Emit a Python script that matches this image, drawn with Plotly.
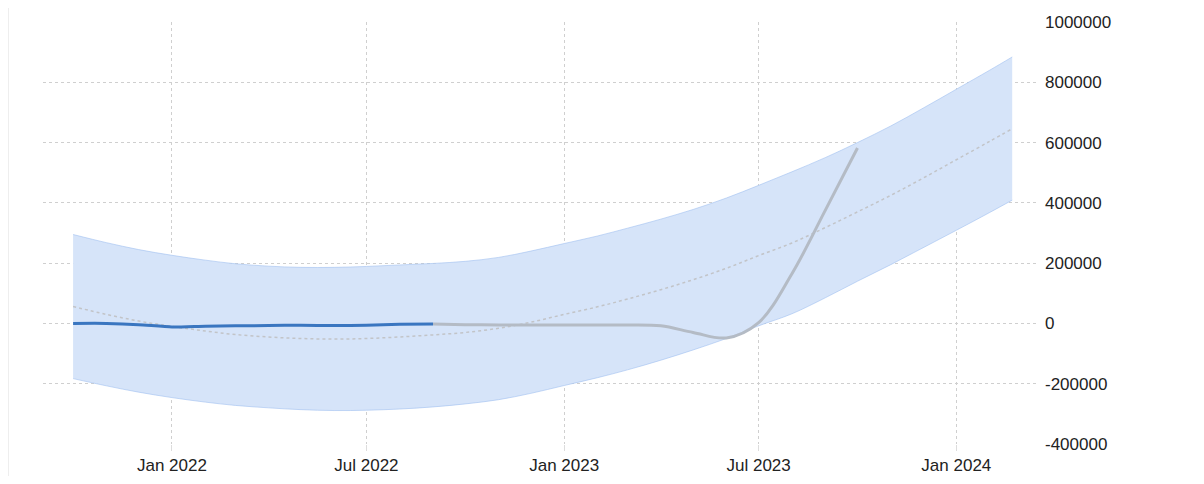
import plotly.graph_objects as go

# ---- data ----
band_dates = [
    "2021-10-01", "2021-11-01", "2021-12-01", "2022-01-01", "2022-02-01", "2022-03-01",
    "2022-04-01", "2022-05-01", "2022-06-01", "2022-07-01", "2022-08-01", "2022-09-01",
    "2022-10-01", "2022-11-01", "2022-12-01", "2023-01-01", "2023-02-01", "2023-03-01",
    "2023-04-01", "2023-05-01", "2023-06-01", "2023-07-01", "2023-08-01", "2023-09-01",
    "2023-10-01", "2023-11-01", "2023-12-01", "2024-01-01", "2024-02-01", "2024-02-22",
]
band_upper = [
    295000, 268000, 245000, 226000, 210000, 198000, 190000, 186000, 186000, 189000,
    194000, 199000, 206000, 219000, 240000, 265000, 290000, 316000, 346000, 378000,
    416000, 458000, 503000, 550000, 600000, 655000, 714000, 777000, 840000, 884000,
]
band_lower = [
    -183000, -207000, -228000, -246000, -261000, -272000, -280000, -286000, -289000, -288000,
    -284000, -277000, -267000, -253000, -232000, -206000, -180000, -154000, -122000, -88000,
    -50000, -8000, 32000, 85000, 140000, 195000, 251000, 309000, 368000, 409000,
]
trend = [
    56000, 30000, 8000, -10000, -25000, -37000, -45000, -50000, -52000, -50000,
    -45000, -38000, -30000, -16000, 4000, 30000, 55000, 81000, 112000, 145000,
    183000, 225000, 267000, 318000, 370000, 425000, 482000, 543000, 604000, 646000,
]

actual_dates = [
    "2021-10-01", "2021-11-01", "2021-12-01", "2022-01-01", "2022-02-01", "2022-03-01",
    "2022-04-01", "2022-05-01", "2022-06-01", "2022-07-01", "2022-08-01", "2022-09-01",
]
actual_values = [0, 0, -4000, -12000, -9000, -8000, -7000, -6000, -7000, -6000, -3000, -2000]

forecast_dates = [
    "2022-09-01", "2022-10-01", "2022-11-01", "2022-12-01", "2023-01-01", "2023-02-01",
    "2023-03-01", "2023-04-01", "2023-05-01", "2023-06-01", "2023-07-01", "2023-08-01",
    "2023-09-01", "2023-10-01",
]
forecast_values = [
    -2000, -4000, -5000, -5000, -5000, -5000, -5000, -8000, -30000, -48000,
    3000, 165000, 375000, 582000,
]

x_tick_vals = ["2022-01-01", "2022-07-01", "2023-01-01", "2023-07-01", "2024-01-01"]
x_tick_text = ["Jan 2022", "Jul 2022", "Jan 2023", "Jul 2023", "Jan 2024"]
y_tick_vals = [-400000, -200000, 0, 200000, 400000, 600000, 800000, 1000000]
y_tick_text = ["-400000", "-200000", "0", "200000", "400000", "600000", "800000", "1000000"]

# ---- figure ----
fig = go.Figure()

fig.add_trace(go.Scatter(
    x=band_dates, y=band_upper, mode="lines",
    line=dict(color="rgba(160,192,240,0.6)", width=1, shape="spline", smoothing=1),
    hoverinfo="skip",
))
fig.add_trace(go.Scatter(
    x=band_dates, y=band_lower, mode="lines",
    line=dict(color="rgba(160,192,240,0.6)", width=1, shape="spline", smoothing=1),
    fill="tonexty", fillcolor="#d6e4f9",
    hoverinfo="skip",
))
fig.add_trace(go.Scatter(
    x=band_dates, y=trend, mode="lines",
    line=dict(color="#c2c4c8", width=1.5, dash="dot", shape="spline", smoothing=1),
    hoverinfo="skip",
))
fig.add_trace(go.Scatter(
    x=forecast_dates, y=forecast_values, mode="lines",
    line=dict(color="#b4bbc5", width=3, shape="spline", smoothing=1),
))
fig.add_trace(go.Scatter(
    x=actual_dates, y=actual_values, mode="lines",
    line=dict(color="#3a76c0", width=3, shape="spline", smoothing=0.6),
))

font_family = "Liberation Sans"

fig.update_layout(
    width=1188, height=468,
    margin=dict(l=35, r=158, t=14, b=32, autoexpand=False),
    paper_bgcolor="white", plot_bgcolor="white",
    showlegend=False,
    font=dict(family=font_family, size=17, color="#222222"),
    xaxis=dict(
        type="date",
        range=["2021-09-03", "2024-03-17"],
        tickvals=x_tick_vals, ticktext=x_tick_text,
        showgrid=True, gridcolor="#cfcfcf", griddash="dot", gridwidth=1,
        ticks="outside", ticklen=6, tickcolor="#dddddd",
        showline=False, zeroline=False, automargin=False,
    ),
    yaxis=dict(
        side="right",
        range=[-400000, 1000000],
        tickvals=y_tick_vals, ticktext=y_tick_text,
        showgrid=True, gridcolor="#cfcfcf", griddash="dot", gridwidth=1,
        ticks="", ticklabelstandoff=6,
        showline=False, zeroline=False, automargin=False,
    ),
    shapes=[dict(
        type="line", xref="paper", yref="paper",
        x0=-0.0347, x1=-0.0347, y0=-0.1, y1=1.05,
        line=dict(color="#eeeeee", width=1),
    )],
)

fig.write_html("out.html")
